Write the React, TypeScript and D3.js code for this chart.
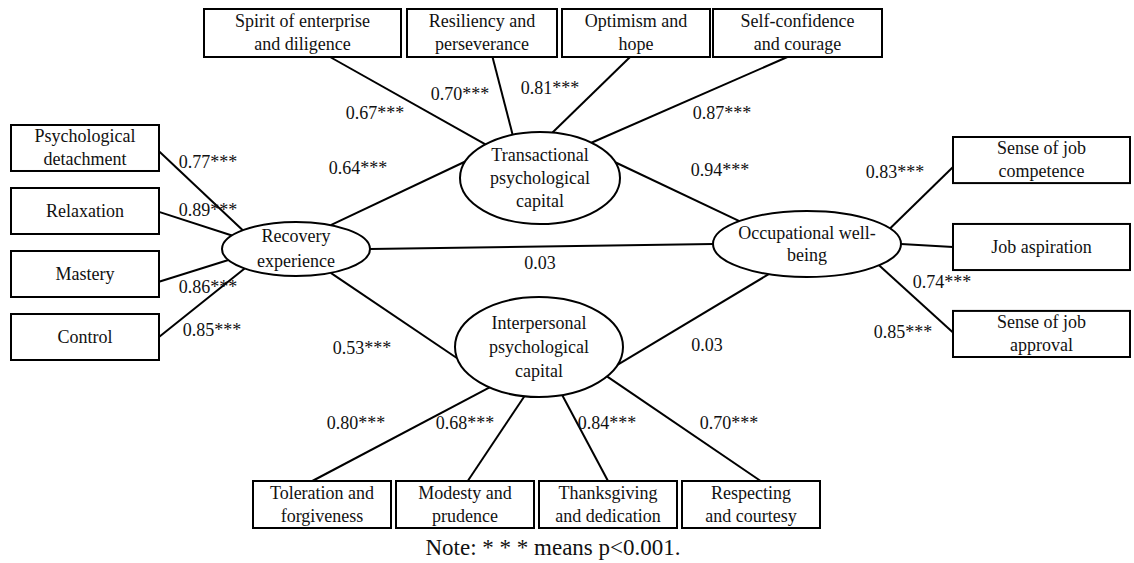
import React from 'react';
import * as d3 from 'd3';

// latent factors
const latentIds = ['recovery', 'transactional', 'interpersonal', 'occupational'];
const latentLabels = [
  ['Recovery', 'experience'],
  ['Transactional', 'psychological', 'capital'],
  ['Interpersonal', 'psychological', 'capital'],
  ['Occupational well-', 'being'],
];

// indicators and loadings per factor
const recoveryItems = [['Psychological', 'detachment'], ['Relaxation'], ['Mastery'], ['Control']];
const recoveryLoadings = ['0.77***', '0.89***', '0.86***', '0.85***'];
const transactionalItems = [
  ['Spirit of enterprise', 'and diligence'],
  ['Resiliency and', 'perseverance'],
  ['Optimism and', 'hope'],
  ['Self-confidence', 'and courage'],
];
const transactionalLoadings = ['0.67***', '0.70***', '0.81***', '0.87***'];
const interpersonalItems = [
  ['Toleration and', 'forgiveness'],
  ['Modesty and', 'prudence'],
  ['Thanksgiving', 'and dedication'],
  ['Respecting', 'and courtesy'],
];
const interpersonalLoadings = ['0.80***', '0.68***', '0.84***', '0.70***'];
const occupationalItems = [['Sense of job', 'competence'], ['Job aspiration'], ['Sense of job', 'approval']];
const occupationalLoadings = ['0.83***', '', '0.74***'];
const occupationalExtraLabel = '0.85***';

// structural paths
const pathFrom = ['recovery', 'transactional', 'recovery', 'recovery', 'interpersonal'];
const pathTo = ['transactional', 'occupational', 'occupational', 'interpersonal', 'occupational'];
const pathCoef = ['0.64***', '0.94***', '0.03', '0.53***', '0.03'];

const note = 'Note: * * * means p<0.001.';

// ---------- layout ----------
const W = 1134;
const H = 563;
const FONT = "'Liberation Serif', 'Times New Roman', Tinos, serif";

const ellipses: Record<string, { cx: number; cy: number; rx: number; ry: number; lh: number }> = {
  recovery: { cx: 296, cy: 249, rx: 74, ry: 27, lh: 25 },
  transactional: { cx: 540, cy: 178, rx: 80, ry: 46, lh: 23 },
  interpersonal: { cx: 539, cy: 347, rx: 84, ry: 50, lh: 24 },
  occupational: { cx: 807, cy: 244, rx: 94, ry: 33, lh: 22 },
};

// box rows
const leftY = d3.scaleBand<number>().domain([0, 1, 2, 3]).range([125, 360]).paddingInner(0.27);
const rightY = d3.scaleBand<number>().domain([0, 1, 2]).range([137, 357]).paddingInner(0.47);
const bottomX = d3.scaleBand<number>().domain([0, 1, 2, 3]).range([253, 820]).paddingInner(0.035);
const topEdges = [204, 401, 407, 557, 562, 710, 713, 882];

type Box = { x: number; y: number; w: number; h: number };
const leftBoxes: Box[] = [0, 1, 2, 3].map(i => ({ x: 11, y: leftY(i)!, w: 148, h: leftY.bandwidth() }));
const rightBoxes: Box[] = [0, 1, 2].map(i => ({ x: 953, y: rightY(i)!, w: 177, h: rightY.bandwidth() }));
const bottomBoxes: Box[] = [0, 1, 2, 3].map(i => ({ x: bottomX(i)!, y: 481, w: bottomX.bandwidth(), h: 47 }));
const topBoxes: Box[] = [0, 1, 2, 3].map(i => ({ x: topEdges[2 * i], y: 9, w: topEdges[2 * i + 1] - topEdges[2 * i], h: 48 }));

// edge anchors: ellipse angle (deg) and fraction along box side
const leftAng = [-136, -150, 156, 134];
const leftFrac = [0.57, 0.52, 0.67, 0.5];
const leftLab = [[208, 162], [208, 210], [208, 287], [212, 330]];
const topAng = [-133, -110, -81, -50];
const topFrac = [0.64, 0.57, 0.46, 0.44];
const topLab = [[375, 113], [460, 94], [550, 88], [722, 113]];
const bottomAng = [126, 100, 74, 36];
const bottomFrac = [0.43, 0.52, 0.5, 0.57];
const bottomLab = [[356, 423], [465, 423], [607, 423], [729, 423]];
const rightAng = [-28, 0, 40];
const rightFrac = [0.65, 0.5, 0.47];
const rightLab = [[895, 172], [0, 0], [942, 282]];
const rightExtraLab = [903, 332];
const pathAng = [[-62, -159], [-20, -136], [0, 180], [62, 167], [21, 114]];
const pathLab = [[358, 168], [720, 170], [540, 263], [362, 348], [707, 345]];

const ePt = (id: string, deg: number): [number, number] => {
  const e = ellipses[id];
  const t = (deg * Math.PI) / 180;
  return [e.cx + e.rx * Math.cos(t), e.cy + e.ry * Math.sin(t)];
};

const T = ({ x, y, children, size = 18 }: { x: number; y: number; children: React.ReactNode; size?: number }) => (
  <text x={x} y={y + size * 0.33} textAnchor="middle" fill="#111"
    style={{ fontFamily: FONT, fontSize: size + 'px' }}>
    {children}
  </text>
);

const BoxNode = ({ b, lines }: { b: Box; lines: string[] }) => {
  const cy = b.y + b.h / 2;
  const lh = 23;
  return (
    <g>
      <rect x={b.x} y={b.y} width={b.w} height={b.h} fill="#fff" stroke="#000" strokeWidth={2} />
      {lines.map((l, i) => (
        <T key={i} x={b.x + b.w / 2} y={cy + (i - (lines.length - 1) / 2) * lh}>{l}</T>
      ))}
    </g>
  );
};

const Label = ({ p, t }: { p: number[]; t: string }) => <T x={p[0]} y={p[1]}>{t}</T>;

const Edge = ({ a, b }: { a: [number, number]; b: [number, number] }) => (
  <line x1={a[0]} y1={a[1]} x2={b[0]} y2={b[1]} stroke="#000" strokeWidth={2} />
);

export default function App() {
  return (
    <svg width={W} height={H} style={{ position: 'absolute', left: 0, top: 0, background: '#fff' }}>
      {/* edges */}
      {leftBoxes.map((b, i) => (
        <Edge key={'l' + i} a={[b.x + b.w, b.y + b.h * leftFrac[i]]} b={ePt('recovery', leftAng[i])} />
      ))}
      {topBoxes.map((b, i) => (
        <Edge key={'t' + i} a={[b.x + b.w * topFrac[i], b.y + b.h]} b={ePt('transactional', topAng[i])} />
      ))}
      {bottomBoxes.map((b, i) => (
        <Edge key={'b' + i} a={[b.x + b.w * bottomFrac[i], b.y]} b={ePt('interpersonal', bottomAng[i])} />
      ))}
      {rightBoxes.map((b, i) => (
        <Edge key={'r' + i} a={[b.x, b.y + b.h * rightFrac[i]]} b={ePt('occupational', rightAng[i])} />
      ))}
      {pathFrom.map((f, i) => (
        <Edge key={'p' + i} a={ePt(f, pathAng[i][0])} b={ePt(pathTo[i], pathAng[i][1])} />
      ))}

      {/* boxes */}
      {leftBoxes.map((b, i) => <BoxNode key={'lb' + i} b={b} lines={recoveryItems[i]} />)}
      {topBoxes.map((b, i) => <BoxNode key={'tb' + i} b={b} lines={transactionalItems[i]} />)}
      {bottomBoxes.map((b, i) => <BoxNode key={'bb' + i} b={b} lines={interpersonalItems[i]} />)}
      {rightBoxes.map((b, i) => <BoxNode key={'rb' + i} b={b} lines={occupationalItems[i]} />)}

      {/* latent ellipses */}
      {latentIds.map((id, i) => {
        const e = ellipses[id];
        const lines = latentLabels[i];
        return (
          <g key={id}>
            <ellipse cx={e.cx} cy={e.cy} rx={e.rx} ry={e.ry} fill="#fff" stroke="#000" strokeWidth={2} />
            {lines.map((l, j) => (
              <T key={j} x={e.cx} y={e.cy + (j - (lines.length - 1) / 2) * e.lh}>{l}</T>
            ))}
          </g>
        );
      })}

      {/* coefficients */}
      {recoveryLoadings.map((t, i) => <Label key={'ll' + i} p={leftLab[i]} t={t} />)}
      {transactionalLoadings.map((t, i) => <Label key={'tl' + i} p={topLab[i]} t={t} />)}
      {interpersonalLoadings.map((t, i) => <Label key={'bl' + i} p={bottomLab[i]} t={t} />)}
      {occupationalLoadings.map((t, i) => t && <Label key={'rl' + i} p={rightLab[i]} t={t} />)}
      <Label p={rightExtraLab} t={occupationalExtraLabel} />
      {pathCoef.map((t, i) => <Label key={'pl' + i} p={pathLab[i]} t={t} />)}

      <T x={553} y={547} size={23}>{note}</T>
    </svg>
  );
}
